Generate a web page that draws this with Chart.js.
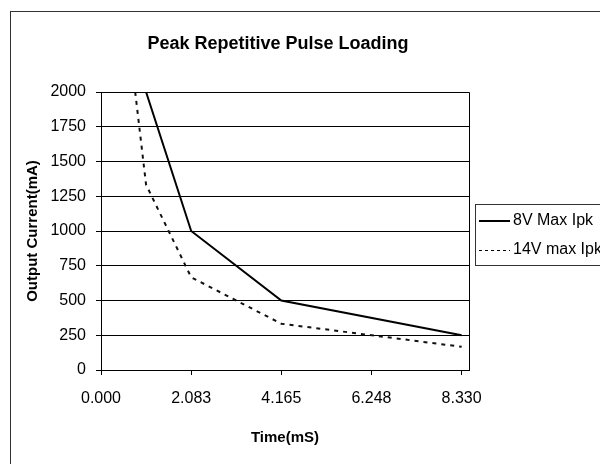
<!DOCTYPE html>
<html>
<head>
<meta charset="utf-8">
<script src="https://cdn.jsdelivr.net/npm/chart.js@4.4.0/dist/chart.umd.min.js"></script>
<style>
  html, body { margin: 0; padding: 0; background: #fff; }
</style>
</head>
<body>
<canvas id="grafico" width="600" height="464"></canvas>
<script>
// valores
const tempo8V = [1.041, 2.083, 4.165, 8.33];
const corrente8V = [2000, 1000, 500, 250];
const tempo14V = [0.79, 1.041, 2.083, 4.165, 8.33];
const corrente14V = [2000, 1333, 667, 333, 167];
const xTicks = [0, 2.0825, 4.165, 6.2475, 8.33];
const xTickLabels = ['0.000', '2.083', '4.165', '6.248', '8.330'];
const nomesSeries = ['8V Max Ipk', '14V max Ipk'];

const fonte = 'Liberation Sans, Arial, sans-serif';

// moldura, titulo, borda da area e legenda
const moldura = {
    id: 'moldura',
    beforeDraw(chart) {
        const ctx = chart.ctx;
        ctx.save();
        ctx.fillStyle = '#fff';
        ctx.fillRect(0, 0, chart.width, chart.height);
        ctx.restore();
    },
    afterDraw(chart) {
        const ctx = chart.ctx;
        const a = chart.chartArea;
        ctx.save();
        ctx.lineWidth = 1;
        ctx.strokeStyle = '#333';
        ctx.strokeRect(10.5, 11.5, 700, 600);

        ctx.strokeStyle = '#000';
        ctx.beginPath();
        ctx.moveTo(Math.round(a.left), Math.round(a.top) + 0.5);
        ctx.lineTo(Math.round(a.right) + 0.5, Math.round(a.top) + 0.5);
        ctx.lineTo(Math.round(a.right) + 0.5, Math.round(a.bottom));
        ctx.stroke();

        // titulo
        ctx.fillStyle = '#000';
        ctx.font = 'bold 18px ' + fonte;
        ctx.textAlign = 'center';
        ctx.textBaseline = 'middle';
        ctx.fillText('Peak Repetitive Pulse Loading', 278, 44);

        // legenda
        ctx.strokeStyle = '#333';
        ctx.strokeRect(475.5, 204.5, 200, 61);
        ctx.font = '16px ' + fonte;
        ctx.textAlign = 'left';
        ctx.strokeStyle = '#000';
        ctx.lineWidth = 2;
        ctx.beginPath();
        ctx.moveTo(479, 221);
        ctx.lineTo(510, 221);
        ctx.stroke();
        ctx.fillText(nomesSeries[0], 513, 221);
        ctx.lineWidth = 1;
        ctx.setLineDash([3, 3]);
        ctx.beginPath();
        ctx.moveTo(479, 250.5);
        ctx.lineTo(510, 250.5);
        ctx.stroke();
        ctx.setLineDash([]);
        ctx.fillText(nomesSeries[1], 513, 250);
        ctx.restore();
    }
};

new Chart(document.getElementById('grafico'), {
    type: 'scatter',
    data: {
        datasets: [
            {
                label: nomesSeries[0],
                data: tempo8V.map((t, i) => ({ x: t, y: corrente8V[i] })),
                showLine: true,
                borderColor: '#000',
                borderWidth: 2,
                pointRadius: 0
            },
            {
                label: nomesSeries[1],
                data: tempo14V.map((t, i) => ({ x: t, y: corrente14V[i] })),
                showLine: true,
                borderColor: '#111',
                borderWidth: 2,
                borderDash: [4, 5],
                pointRadius: 0
            }
        ]
    },
    options: {
        responsive: false,
        animation: false,
        devicePixelRatio: 1,
        layout: { padding: { left: 0, right: 131, top: 92, bottom: 0 } },
        plugins: {
            legend: { display: false },
            title: { display: false },
            tooltip: { enabled: false }
        },
        scales: {
            x: {
                type: 'linear',
                min: 0,
                max: 8.5,
                afterBuildTicks: (s) => { s.ticks = xTicks.map(v => ({ value: v })); },
                afterFit: (s) => { s.height = 94; },
                ticks: {
                    callback: (v, i) => xTickLabels[i],
                    color: '#000',
                    font: { family: fonte, size: 16 },
                    padding: 14,
                    maxRotation: 0,
                    autoSkip: false
                },
                grid: { drawOnChartArea: false, drawTicks: true, tickLength: 5, color: '#000' },
                border: { color: '#000', width: 1 },
                title: {
                    display: true,
                    text: 'Time(mS)',
                    color: '#000',
                    font: { family: fonte, size: 15, weight: 'bold' },
                    padding: { top: 0, bottom: 17 }
                }
            },
            y: {
                min: 0,
                max: 2000,
                afterFit: (s) => { s.width = 101; },
                ticks: {
                    stepSize: 250,
                    callback: (v) => String(v),
                    color: '#000',
                    font: { family: fonte, size: 16 },
                    padding: 10
                },
                grid: { color: '#000', tickLength: 5 },
                border: { color: '#000', width: 1 },
                title: {
                    display: true,
                    text: 'Output Current(mA)',
                    color: '#000',
                    font: { family: fonte, size: 15, weight: 'bold' },
                    padding: { top: 24, bottom: 0 }
                }
            }
        }
    },
    plugins: [moldura]
});
</script>
</body>
</html>
